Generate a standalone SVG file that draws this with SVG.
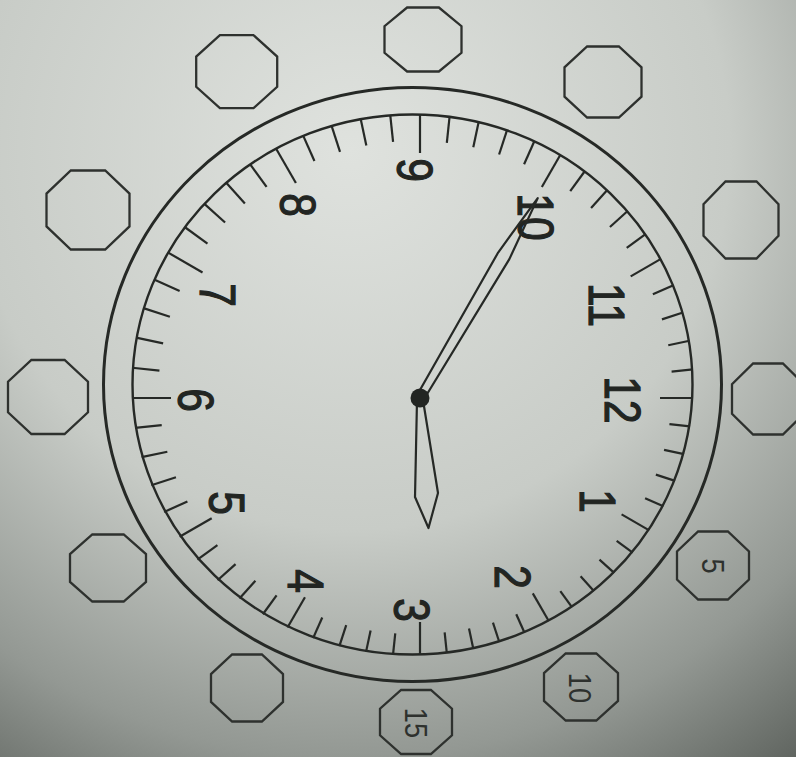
<svg xmlns="http://www.w3.org/2000/svg" width="796" height="757" viewBox="0 0 796 757">
<defs>
<radialGradient id="bg" cx="350" cy="150" r="760" gradientUnits="userSpaceOnUse">
<stop offset="0" stop-color="#dfe2de"/>
<stop offset="0.5" stop-color="#c8ccc7"/>
<stop offset="0.8" stop-color="#939893"/>
<stop offset="1" stop-color="#5e635e"/>
</radialGradient>
<style>
.ring{fill:none;stroke:#262926;stroke-width:3}
.tick{stroke:#262926;stroke-width:2.2}
.num{font-family:"Liberation Sans",Arial,sans-serif;font-size:50px;fill:#222522;stroke:#222522;stroke-width:1.2;text-anchor:middle;dominant-baseline:central}
.lbl{font-family:"Liberation Sans",Arial,sans-serif;font-size:32px;fill:#2e312e;text-anchor:middle;dominant-baseline:central}
.oct{fill:none;stroke:#2e312e;stroke-width:2.3}
.hand{fill:none;stroke:#262926;stroke-width:2.2;stroke-linejoin:round}
</style>
</defs>
<rect width="796" height="757" fill="url(#bg)"/>

<g id="octagons">
<g id="oct1"><polygon class="oct" points="219.9,35.2 253.5,35.2 277.2,56.6 277.2,86.8 253.5,108.2 219.9,108.2 196.2,86.8 196.2,56.6"/></g>
<g id="oct2"><polygon class="oct" points="407.1,7.5 438.9,7.5 461.5,26.2 461.5,52.8 438.9,71.5 407.1,71.5 384.5,52.8 384.5,26.2"/></g>
<g id="oct3"><polygon class="oct" points="587.1,46.5 618.9,46.5 641.5,67.3 641.5,96.7 618.9,117.5 587.1,117.5 564.5,96.7 564.5,67.3"/></g>
<g id="oct4"><polygon class="oct" points="725.5,181.5 756.5,181.5 778.5,204.1 778.5,235.9 756.5,258.5 725.5,258.5 703.5,235.9 703.5,204.1"/></g>
<g id="oct5"><polygon class="oct" points="753.1,363.5 782.9,363.5 804,384.3 804,413.7 782.9,434.5 753.1,434.5 732,413.7 732,384.3"/></g>
<g id="oct6"><polygon class="oct" points="698.1,531.5 727.9,531.5 749,551.4 749,579.6 727.9,599.5 698.1,599.5 677,579.6 677,551.4"/>
<text class="lbl" transform="translate(713,566) rotate(90) scale(0.85,1)">5</text></g>
<g id="oct7"><polygon class="oct" points="565.7,653.5 596.3,653.5 618,673.1 618,700.9 596.3,720.5 565.7,720.5 544,700.9 544,673.1"/>
<text class="lbl" transform="translate(580,688) rotate(90) scale(0.85,1)">10</text></g>
<g id="oct8"><polygon class="oct" points="401.1,690 430.9,690 452,708.7 452,735.3 430.9,754 401.1,754 380,735.3 380,708.7"/>
<text class="lbl" transform="translate(416,723) rotate(90) scale(0.85,1)">15</text></g>
<g id="oct9"><polygon class="oct" points="232.1,654.5 261.9,654.5 283,674.1 283,701.9 261.9,721.5 232.1,721.5 211,701.9 211,674.1"/></g>
<g id="oct10"><polygon class="oct" points="92.3,534.5 123.7,534.5 146,554.1 146,581.9 123.7,601.5 92.3,601.5 70,581.9 70,554.1"/></g>
<g id="oct11"><polygon class="oct" points="31.4,360 64.6,360 88,381.7 88,412.3 64.6,434 31.4,434 8,412.3 8,381.7"/></g>
<g id="oct12"><polygon class="oct" points="70.8,170.5 105.2,170.5 129.5,193.6 129.5,226.4 105.2,249.5 70.8,249.5 46.5,226.4 46.5,193.6"/></g>
</g>

<g id="clock-face">
<ellipse class="ring" cx="412.5" cy="384.5" rx="309" ry="297"/>
<ellipse class="ring" cx="412.5" cy="384.5" rx="280" ry="270" style="stroke-width:2.4"/>
</g>

<g id="ticks" class="tick" transform="translate(420,398)">
<line x1="240.0" x2="273" transform="rotate(0)"/>
<line x1="250.8" x2="271.5" transform="rotate(6)"/>
<line x1="249.5" x2="269.9" transform="rotate(12)"/>
<line x1="248.0" x2="268.2" transform="rotate(18)"/>
<line x1="246.4" x2="266.4" transform="rotate(24)"/>
<line x1="232.8" x2="264.7" transform="rotate(30)"/>
<line x1="243.1" x2="262.9" transform="rotate(36)"/>
<line x1="241.5" x2="261.3" transform="rotate(42)"/>
<line x1="240.0" x2="259.8" transform="rotate(48)"/>
<line x1="238.7" x2="258.5" transform="rotate(54)"/>
<line x1="225.6" x2="257.5" transform="rotate(60)"/>
<line x1="236.7" x2="256.7" transform="rotate(66)"/>
<line x1="236.1" x2="256.3" transform="rotate(72)"/>
<line x1="235.7" x2="256.1" transform="rotate(78)"/>
<line x1="235.7" x2="256.4" transform="rotate(84)"/>
<line x1="224.0" x2="257.0" transform="rotate(90)"/>
<line x1="236.7" x2="258.0" transform="rotate(96)"/>
<line x1="237.6" x2="259.3" transform="rotate(102)"/>
<line x1="238.8" x2="260.9" transform="rotate(108)"/>
<line x1="240.3" x2="262.8" transform="rotate(114)"/>
<line x1="230.1" x2="265.0" transform="rotate(120)"/>
<line x1="244.0" x2="267.3" transform="rotate(126)"/>
<line x1="246.0" x2="269.8" transform="rotate(132)"/>
<line x1="248.2" x2="272.4" transform="rotate(138)"/>
<line x1="250.4" x2="275.1" transform="rotate(144)"/>
<line x1="240.5" x2="277.6" transform="rotate(150)"/>
<line x1="254.6" x2="280.1" transform="rotate(156)"/>
<line x1="256.6" x2="282.5" transform="rotate(162)"/>
<line x1="258.3" x2="284.6" transform="rotate(168)"/>
<line x1="259.7" x2="286.4" transform="rotate(174)"/>
<line x1="249.0" x2="288.0" transform="rotate(180)"/>
<line x1="262.0" x2="289.3" transform="rotate(186)"/>
<line x1="262.6" x2="290.2" transform="rotate(192)"/>
<line x1="263.0" x2="290.8" transform="rotate(198)"/>
<line x1="263.1" x2="291.1" transform="rotate(204)"/>
<line x1="251.1" x2="291.2" transform="rotate(210)"/>
<line x1="262.7" x2="290.9" transform="rotate(216)"/>
<line x1="262.3" x2="290.5" transform="rotate(222)"/>
<line x1="261.7" x2="289.9" transform="rotate(228)"/>
<line x1="261.0" x2="289.2" transform="rotate(234)"/>
<line x1="248.2" x2="288.3" transform="rotate(240)"/>
<line x1="259.5" x2="287.5" transform="rotate(246)"/>
<line x1="258.8" x2="286.6" transform="rotate(252)"/>
<line x1="258.1" x2="285.7" transform="rotate(258)"/>
<line x1="257.5" x2="284.8" transform="rotate(264)"/>
<line x1="245.0" x2="284.0" transform="rotate(270)"/>
<line x1="256.6" x2="283.3" transform="rotate(276)"/>
<line x1="256.3" x2="282.6" transform="rotate(282)"/>
<line x1="256.0" x2="281.9" transform="rotate(288)"/>
<line x1="255.9" x2="281.4" transform="rotate(294)"/>
<line x1="243.7" x2="280.8" transform="rotate(300)"/>
<line x1="255.6" x2="280.3" transform="rotate(306)"/>
<line x1="255.7" x2="279.9" transform="rotate(312)"/>
<line x1="255.6" x2="279.4" transform="rotate(318)"/>
<line x1="255.5" x2="278.8" transform="rotate(324)"/>
<line x1="243.3" x2="278.2" transform="rotate(330)"/>
<line x1="254.9" x2="277.4" transform="rotate(336)"/>
<line x1="254.4" x2="276.5" transform="rotate(342)"/>
<line x1="253.8" x2="275.5" transform="rotate(348)"/>
<line x1="253.0" x2="274.3" transform="rotate(354)"/>
</g>

<g id="numbers">
<text class="num" transform="translate(622,400) rotate(90) scale(0.85,1)">12</text>
<text class="num" transform="translate(597,501) rotate(90) scale(0.85,1)">1</text>
<text class="num" transform="translate(512,577) rotate(90) scale(0.85,1)">2</text>
<text class="num" transform="translate(411,610) rotate(90) scale(0.85,1)">3</text>
<text class="num" transform="translate(305,581) rotate(90) scale(0.85,1)">4</text>
<text class="num" transform="translate(226,503) rotate(90) scale(0.85,1)">5</text>
<text class="num" transform="translate(195,400) rotate(90) scale(0.85,1)">6</text>
<text class="num" transform="translate(217,295) rotate(90) scale(0.85,1)">7</text>
<text class="num" transform="translate(297,205) rotate(90) scale(0.85,1)">8</text>
<text class="num" transform="translate(414,170) rotate(90) scale(0.85,1)">9</text>
<text class="num" transform="translate(535,217) rotate(90) scale(0.85,1)">10</text>
<text class="num" transform="translate(606,305) rotate(90) scale(0.85,1)">11</text>
</g>

<g id="hands">
<polygon id="minute-hand" class="hand" transform="translate(420,398) rotate(-59.5)" points="0,-4 165,-6.5 232,0 165,6.5 0,4"/>
<polygon id="hour-hand" class="hand" points="417,400 415,497 428.5,528 438,493 423,400"/>
<circle id="pivot" cx="420" cy="398" r="9.5" fill="#222522"/>
</g>
</svg>
